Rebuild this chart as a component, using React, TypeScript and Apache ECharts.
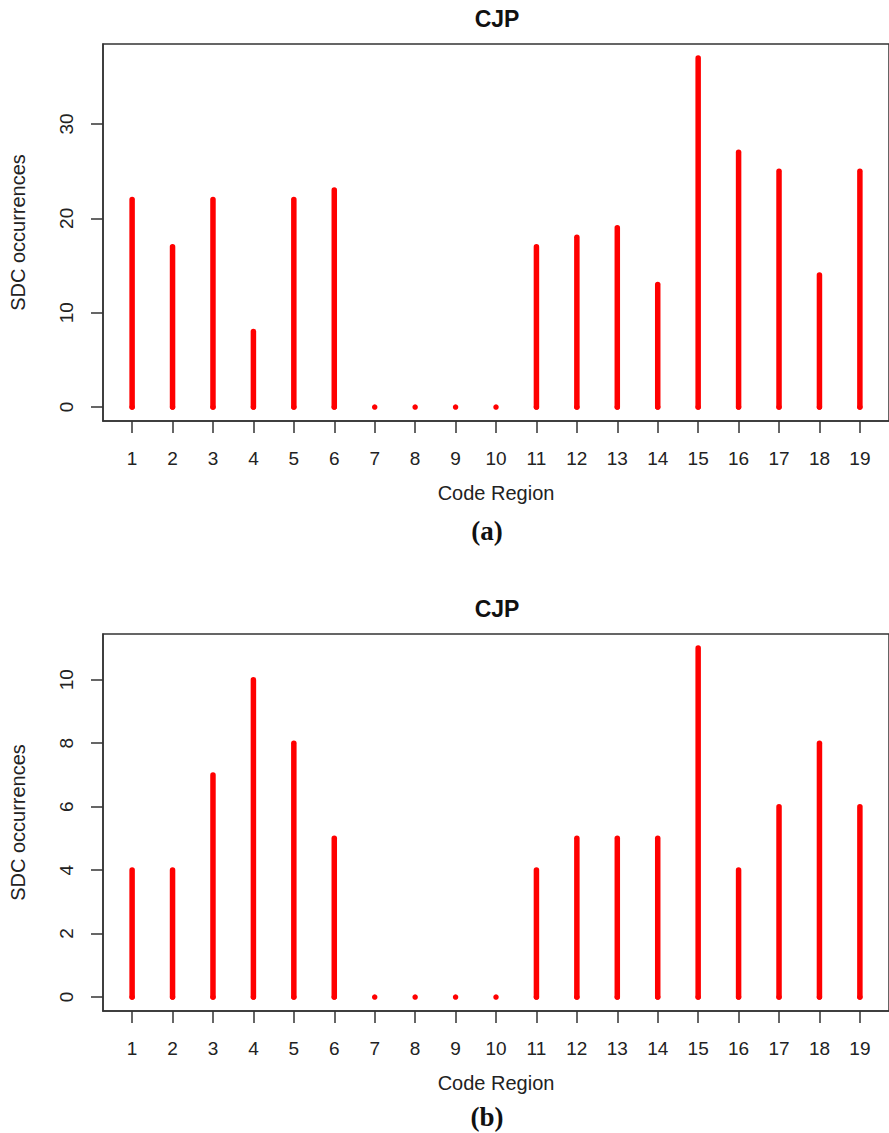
import React, { useEffect, useRef } from "react";
import * as echarts from "echarts";

const regions = [1, 2, 3, 4, 5, 6, 7, 8, 9, 10, 11, 12, 13, 14, 15, 16, 17, 18, 19];
const sdcA = [22, 17, 22, 8, 22, 23, 0, 0, 0, 0, 17, 18, 19, 13, 37, 27, 25, 14, 25];
const sdcB = [4, 4, 7, 10, 8, 5, 0, 0, 0, 0, 4, 5, 5, 5, 11, 4, 6, 8, 6];
const yTicksA = [0, 10, 20, 30];
const yTicksB = [0, 2, 4, 6, 8, 10];
const titleText = "CJP";
const xName = "Code Region";
const yName = "SDC occurrences";
const captions = ["(a)", "(b)"];

const FONT = "Liberation Sans, Arial, Helvetica, sans-serif";
const SERIF = "Liberation Serif, Times New Roman, serif";
const AXIS_COLOR = "#333";
const TEXT_COLOR = "#222";

function pad(min: number, max: number) {
  const d = (max - min) * 0.04;
  return [min - d, max + d];
}

export default function App() {
  const ref = useRef<HTMLDivElement>(null);
  useEffect(() => {
    document.body.style.margin = "0";
    const chart = echarts.init(ref.current!, null, { renderer: "svg" });
    const [xMin, xMax] = pad(1, 19);
    const [yAMin, yAMax] = pad(0, Math.max(...sdcA));
    const [yBMin, yBMax] = pad(0, Math.max(...sdcB));
    const grids = [
      { left: 103, top: 44, width: 788, height: 377 },
      { left: 103, top: 634, width: 788, height: 377 },
    ];
    const renderItem = (params: any, api: any) => {
      const x = api.value(0);
      const y = api.value(1);
      const p0 = api.coord([x, 0]);
      const p1 = api.coord([x, y]);
      return {
        type: "group",
        children: [
          {
            type: "line",
            shape: { x1: p0[0], y1: p0[1], x2: p1[0], y2: p1[1] },
            style: { stroke: "#ff0000", lineWidth: 5.5, lineCap: "round" },
          },
          {
            type: "circle",
            shape: { cx: p0[0], cy: p0[1], r: 2.75 },
            style: { fill: "#ff0000" },
          },
        ],
      };
    };
    const xAxisBase = (gridIndex: number) => ({
      type: "value",
      gridIndex,
      min: xMin,
      max: xMax,
      name: xName,
      nameLocation: "middle",
      nameGap: 62,
      nameTextStyle: { fontFamily: FONT, fontSize: 20, color: TEXT_COLOR },
      axisLine: { show: true, onZero: false, lineStyle: { color: AXIS_COLOR, width: 1.5 } },
      axisTick: { show: true, inside: false, length: 12, customValues: regions, lineStyle: { color: AXIS_COLOR, width: 1.5 } },
      axisLabel: { customValues: regions, margin: 28, fontFamily: FONT, fontSize: 19, color: TEXT_COLOR },
      splitLine: { show: false },
    });
    const yAxisBase = (gridIndex: number, min: number, max: number, ticks: number[]) => ({
      type: "value",
      gridIndex,
      min,
      max,
      name: yName,
      nameLocation: "middle",
      nameGap: 75,
      nameRotate: 90,
      nameTextStyle: { fontFamily: FONT, fontSize: 20, color: TEXT_COLOR },
      axisLine: { show: true, onZero: false, lineStyle: { color: AXIS_COLOR, width: 1.5 } },
      axisTick: { show: true, inside: false, length: 12, customValues: ticks, lineStyle: { color: AXIS_COLOR, width: 1.5 } },
      axisLabel: { customValues: ticks, rotate: 90, margin: 27, fontFamily: FONT, fontSize: 19, color: TEXT_COLOR },
      splitLine: { show: false },
    });
    const txt = (text: string, x: number, y: number, font: string) => ({
      type: "text",
      x,
      y,
      style: { text, textAlign: "center", textVerticalAlign: "middle", font, fill: "#111" },
    });
    chart.setOption({
      animation: false,
      backgroundColor: "#fff",
      graphic: [
        txt(titleText, 497, 19, `bold 23px ${FONT}`),
        txt(titleText, 497, 609, `bold 23px ${FONT}`),
        txt(captions[0], 487, 531, `bold 27px ${SERIF}`),
        txt(captions[1], 487, 1117, `bold 27px ${SERIF}`),
      ],
      grid: grids.map((g) => ({ ...g, show: true, borderColor: AXIS_COLOR, borderWidth: 1.5, backgroundColor: "transparent" })),
      xAxis: [xAxisBase(0), xAxisBase(1)],
      yAxis: [yAxisBase(0, yAMin, yAMax, yTicksA), yAxisBase(1, yBMin, yBMax, yTicksB)],
      series: [
        {
          type: "custom",
          xAxisIndex: 0,
          yAxisIndex: 0,
          renderItem,
          data: regions.map((r, i) => [r, sdcA[i]]),
        },
        {
          type: "custom",
          xAxisIndex: 1,
          yAxisIndex: 1,
          renderItem,
          data: regions.map((r, i) => [r, sdcB[i]]),
        },
      ],
    });
    return () => chart.dispose();
  }, []);
  return <div ref={ref} style={{ width: 889, height: 1133, position: "absolute", left: 0, top: 0 }} />;
}
